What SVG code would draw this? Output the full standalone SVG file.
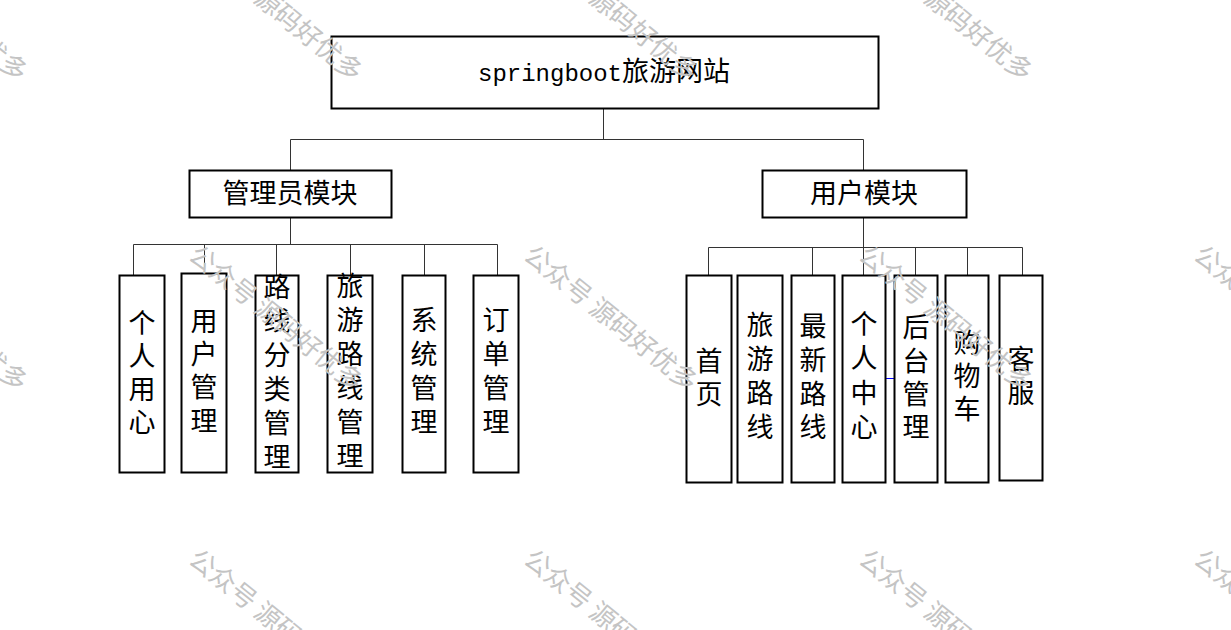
<svg xmlns="http://www.w3.org/2000/svg" width="1231" height="630" viewBox="0 0 1231 630">
<style>
.box{fill:#fff;stroke:#000;stroke-width:2}
.con{fill:none;stroke:#333;stroke-width:1}
.t{font-family:"Noto Sans CJK SC","Liberation Serif",serif;font-size:27px;fill:#000;text-anchor:middle}
.h{font-family:"Noto Sans CJK SC","Liberation Serif",serif;font-size:27px;fill:#000;text-anchor:middle}
.wm{font-family:"Noto Sans CJK SC",sans-serif;font-size:26px;fill:#c4c4c4}
</style>
<rect width="1231" height="630" fill="#fff"/>
<g id="connectors">
<path class="con" d="M603.5 109V139.5M290.5 139.5H863.5M290.5 139.5V170M863.5 139.5V170"/>
<path class="con" d="M290.5 218V244.5M133.5 244.5H497.5M133.5 244.5V275M204.5 244.5V273M276.5 244.5V275M350.5 244.5V275M424.5 244.5V275M497.5 244.5V275"/>
<path class="con" d="M863.5 218V275M708.5 247.5H1022.5M708.5 247.5V275M812.5 247.5V275M915.5 247.5V275M967.5 247.5V275M1022.5 247.5V275"/>
<path d="M886 378.5H894" stroke="#0000ff" stroke-width="1"/>
</g>
<g id="root"><rect class="box" x="331.5" y="36.5" width="547" height="72"/>
<text x="604" y="81" class="h" font-size="28"><tspan font-family="Liberation Mono,monospace" font-size="24">springboot</tspan>旅游网站</text></g>
<g id="admin"><rect class="box" x="189.5" y="170.5" width="202" height="47"/><text x="290" y="203" class="h">管理员模块</text></g>
<g id="user"><rect class="box" x="762.5" y="170.5" width="204" height="47"/><text x="864" y="203" class="h">用户模块</text></g>

<g id="a1"><rect class="box" x="119.5" y="275.5" width="45" height="197"/><text class="t"><tspan x="142" y="333">个</tspan><tspan x="142" y="366">人</tspan><tspan x="142" y="399">用</tspan><tspan x="142" y="432">心</tspan></text></g>
<g id="a2"><rect class="box" x="181.5" y="273.5" width="45" height="199"/><text class="t"><tspan x="204" y="331">用</tspan><tspan x="204" y="364">户</tspan><tspan x="204" y="397">管</tspan><tspan x="204" y="431">理</tspan></text></g>
<g id="a3"><rect class="box" x="255.5" y="275.5" width="43" height="197"/><text class="t"><tspan x="277" y="297">路</tspan><tspan x="277" y="331">线</tspan><tspan x="277" y="365">分</tspan><tspan x="277" y="399">类</tspan><tspan x="277" y="433">管</tspan><tspan x="277" y="467">理</tspan></text></g>
<g id="a4"><rect class="box" x="327.5" y="275.5" width="45" height="197"/><text class="t"><tspan x="350" y="296">旅</tspan><tspan x="350" y="330">游</tspan><tspan x="350" y="364">路</tspan><tspan x="350" y="398">线</tspan><tspan x="350" y="432">管</tspan><tspan x="350" y="466">理</tspan></text></g>
<g id="a5"><rect class="box" x="402.5" y="275.5" width="43" height="197"/><text class="t"><tspan x="424" y="330">系</tspan><tspan x="424" y="364">统</tspan><tspan x="424" y="398">管</tspan><tspan x="424" y="432">理</tspan></text></g>
<g id="a6"><rect class="box" x="473.5" y="275.5" width="45" height="197"/><text class="t"><tspan x="496" y="330">订</tspan><tspan x="496" y="364">单</tspan><tspan x="496" y="398">管</tspan><tspan x="496" y="432">理</tspan></text></g>

<g id="u1"><rect class="box" x="686.5" y="275.5" width="45" height="207"/><text class="t"><tspan x="709" y="371">首</tspan><tspan x="709" y="404">页</tspan></text></g>
<g id="u2"><rect class="box" x="737.5" y="275.5" width="45" height="207"/><text class="t"><tspan x="760" y="335">旅</tspan><tspan x="760" y="369">游</tspan><tspan x="760" y="403">路</tspan><tspan x="760" y="437">线</tspan></text></g>
<g id="u3"><rect class="box" x="791.5" y="275.5" width="43" height="207"/><text class="t"><tspan x="813" y="336">最</tspan><tspan x="813" y="370">新</tspan><tspan x="813" y="404">路</tspan><tspan x="813" y="437">线</tspan></text></g>
<g id="u4"><rect class="box" x="842.5" y="275.5" width="43" height="207"/><text class="t"><tspan x="864" y="334">个</tspan><tspan x="864" y="368">人</tspan><tspan x="864" y="403">中</tspan><tspan x="864" y="437">心</tspan></text></g>
<g id="u5"><rect class="box" x="894.5" y="275.5" width="43" height="207"/><text class="t"><tspan x="916" y="337">后</tspan><tspan x="916" y="371">台</tspan><tspan x="916" y="404">管</tspan><tspan x="916" y="437">理</tspan></text></g>
<g id="u6"><rect class="box" x="945.5" y="275.5" width="43" height="207"/><text class="t"><tspan x="967" y="353">购</tspan><tspan x="967" y="386">物</tspan><tspan x="967" y="419">车</tspan></text></g>
<g id="u7"><rect class="box" x="999.5" y="275.5" width="43" height="205"/><text class="t"><tspan x="1021" y="369">客</tspan><tspan x="1021" y="403">服</tspan></text></g>

<g id="watermarks">
<text class="wm" transform="translate(-148 -52) rotate(39)">公众号 源码好优多</text>
<text class="wm" transform="translate(187 -52) rotate(39)">公众号 源码好优多</text>
<text class="wm" transform="translate(522 -52) rotate(39)">公众号 源码好优多</text>
<text class="wm" transform="translate(857 -52) rotate(39)">公众号 源码好优多</text>
<text class="wm" transform="translate(-148 258) rotate(39)">公众号 源码好优多</text>
<text class="wm" transform="translate(187 258) rotate(39)">公众号 源码好优多</text>
<text class="wm" transform="translate(522 258) rotate(39)">公众号 源码好优多</text>
<text class="wm" transform="translate(857 258) rotate(39)">公众号 源码好优多</text>
<text class="wm" transform="translate(1192 258) rotate(39)">公众号 源码好优多</text>
<text class="wm" transform="translate(187 562) rotate(39)">公众号 源码好优多</text>
<text class="wm" transform="translate(522 562) rotate(39)">公众号 源码好优多</text>
<text class="wm" transform="translate(857 562) rotate(39)">公众号 源码好优多</text>
<text class="wm" transform="translate(1192 562) rotate(39)">公众号 源码好优多</text>
</g>
</svg>
